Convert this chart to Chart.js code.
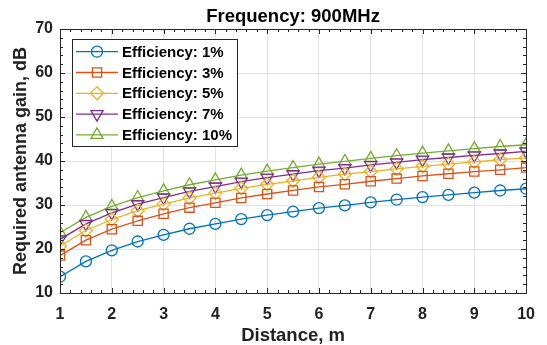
<!DOCTYPE html>
<html>
<head>
<meta charset="utf-8">
<script src="https://cdn.jsdelivr.net/npm/chart.js@4/dist/chart.umd.min.js"></script>
<style>
html,body{margin:0;padding:0;background:#fff;}
#wrap{width:547px;height:345px;}
</style>
</head>
<body>
<div id="wrap"><canvas id="c" width="547" height="345"></canvas></div>
<script>
const distances = [1, 1.5, 2, 2.5, 3, 3.5, 4, 4.5, 5, 5.5, 6, 6.5, 7, 7.5, 8, 8.5, 9, 9.5, 10];
const seriesNames = ['Efficiency: 1%', 'Efficiency: 3%', 'Efficiency: 5%', 'Efficiency: 7%', 'Efficiency: 10%'];
const eff1  = [13.7, 17.2, 19.7, 21.7, 23.2, 24.6, 25.7, 26.8, 27.7, 28.5, 29.3, 29.9, 30.6, 31.2, 31.8, 32.3, 32.8, 33.3, 33.7];
const eff3  = [18.5, 22.0, 24.5, 26.4, 28.0, 29.4, 30.5, 31.6, 32.5, 33.3, 34.1, 34.7, 35.4, 36.0, 36.6, 37.1, 37.6, 38.0, 38.5];
const eff5  = [20.7, 24.2, 26.7, 28.7, 30.2, 31.6, 32.7, 33.8, 34.7, 35.5, 36.3, 37.0, 37.6, 38.2, 38.8, 39.3, 39.8, 40.3, 40.7];
const eff7  = [22.2, 25.7, 28.2, 30.2, 31.7, 33.1, 34.2, 35.3, 36.2, 37.0, 37.8, 38.4, 39.1, 39.7, 40.3, 40.8, 41.3, 41.7, 42.2];
const eff10 = [23.7, 27.2, 29.7, 31.7, 33.2, 34.6, 35.7, 36.8, 37.7, 38.5, 39.3, 39.9, 40.6, 41.2, 41.8, 42.3, 42.8, 43.3, 43.7];
const xTicks = [1, 2, 3, 4, 5, 6, 7, 8, 9, 10];
const yTicks = [10, 20, 30, 40, 50, 60, 70];
const chartTitle = 'Frequency: 900MHz';
const xLabel = 'Distance, m';
const yLabel = 'Required antenna gain, dB';

const colors = ['#0072BD', '#D95319', '#EDB120', '#7E2F8E', '#77AC30'];
const styles = ['circle', 'rect', 'rectRot', 'triangle', 'triangle'];
const rotations = [0, 0, 0, 180, 0];
const radii = [5.5, 6.5, 6.5, 7, 7];
const allSeries = [eff1, eff3, eff5, eff7, eff10];

const datasets = allSeries.map((s, i) => ({
  label: seriesNames[i],
  data: s.map((v, j) => ({x: distances[j], y: v})),
  borderColor: colors[i],
  backgroundColor: 'rgba(0,0,0,0)',
  borderWidth: 1.3,
  pointStyle: styles[i],
  pointRotation: rotations[i],
  pointRadius: radii[i],
  pointBorderWidth: 1.3,
  pointBorderColor: colors[i],
  pointBackgroundColor: 'rgba(0,0,0,0)',
  tension: 0
}));

const AX = '#262626';
const FONT = '"Liberation Sans", Arial, sans-serif';

function drawMarker(ctx, style, r, rot, x, y) {
  ctx.beginPath();
  if (style === 'circle') {
    ctx.arc(x, y, r, 0, Math.PI * 2);
  } else if (style === 'rect') {
    const s = r * Math.SQRT1_2;
    ctx.rect(x - s, y - s, 2 * s, 2 * s);
  } else if (style === 'rectRot') {
    ctx.moveTo(x, y - r); ctx.lineTo(x + r, y); ctx.lineTo(x, y + r); ctx.lineTo(x - r, y); ctx.closePath();
  } else if (style === 'triangle') {
    let a = rot * Math.PI / 180;
    for (let k = 0; k < 3; k++) {
      const px = x + Math.sin(a) * r, py = y - Math.cos(a) * r;
      if (k === 0) ctx.moveTo(px, py); else ctx.lineTo(px, py);
      a += 2 * Math.PI / 3;
    }
    ctx.closePath();
  }
  ctx.stroke();
}

const decor = {
  id: 'decor',
  afterDatasetsDraw(chart) {
    const ctx = chart.ctx;
    const ca = chart.chartArea;
    const xs = chart.scales.x, ys = chart.scales.y;
    ctx.save();
    ctx.strokeStyle = AX;
    ctx.lineWidth = 1;
    ctx.strokeRect(Math.round(ca.left) + 0.5, Math.round(ca.top) + 0.5, Math.round(ca.right - ca.left), Math.round(ca.bottom - ca.top));
    ctx.beginPath();
    for (let i = 0; i <= 45; i++) {
      const v = 1 + i * 0.2;
      const major = i % 5 === 0;
      const L = major ? 5 : 3;
      const px = Math.round(xs.getPixelForValue(v)) + 0.5;
      ctx.moveTo(px, ca.bottom); ctx.lineTo(px, ca.bottom - L);
      ctx.moveTo(px, ca.top); ctx.lineTo(px, ca.top + L);
    }
    for (let i = 0; i <= 30; i++) {
      const v = 10 + i * 2;
      const major = i % 5 === 0;
      const L = major ? 5 : 3;
      const py = Math.round(ys.getPixelForValue(v)) + 0.5;
      ctx.moveTo(ca.left, py); ctx.lineTo(ca.left + L, py);
      ctx.moveTo(ca.right, py); ctx.lineTo(ca.right - L, py);
    }
    ctx.stroke();
    const lx = 72.5, ly = 39.5, lw = 165, lh = 107;
    ctx.fillStyle = '#fff';
    ctx.fillRect(lx, ly, lw, lh);
    ctx.strokeStyle = AX;
    ctx.strokeRect(lx, ly, lw, lh);
    ctx.font = 'bold 15px ' + FONT;
    ctx.textBaseline = 'middle';
    ctx.textAlign = 'left';
    chart.data.datasets.forEach((ds, i) => {
      const ry = 51.7 + i * 20.8;
      ctx.strokeStyle = ds.borderColor;
      ctx.lineWidth = 1.3;
      ctx.beginPath();
      ctx.moveTo(76, ry); ctx.lineTo(118, ry);
      ctx.stroke();
      drawMarker(ctx, ds.pointStyle, ds.pointRadius, ds.pointRotation, 97, ry);
      ctx.fillStyle = '#000';
      ctx.fillText(ds.label, 122, ry + 1);
    });
    ctx.font = 'bold 18.5px ' + FONT;
    ctx.textAlign = 'center';
    ctx.textBaseline = 'alphabetic';
    ctx.fillStyle = '#000';
    ctx.fillText(chartTitle, (ca.left + ca.right) / 2, 21.7);
    ctx.restore();
  }
};

new Chart(document.getElementById('c'), {
  type: 'line',
  data: { datasets },
  options: {
    responsive: false,
    animation: false,
    devicePixelRatio: 1,
    layout: { padding: { top: 29, right: 19, left: 0, bottom: 0 } },
    plugins: { legend: { display: false }, title: { display: false }, tooltip: { enabled: false } },
    scales: {
      x: {
        type: 'linear',
        min: 1, max: 10,
        afterBuildTicks: (s) => { s.ticks = xTicks.map(v => ({value: v})); },
        afterFit: (s) => { s.height = 52; },
        grid: { color: '#e3e3e3', drawTicks: false, lineWidth: 1 },
        border: { display: false },
        ticks: { padding: 12, color: '#222', font: { family: FONT, size: 16, weight: 'bold' }, maxRotation: 0 },
        title: { display: true, text: xLabel, color: '#222', font: { family: FONT, size: 18.5, weight: 'bold' }, padding: { top: 0, bottom: -2 } }
      },
      y: {
        type: 'linear',
        min: 10, max: 70,
        afterBuildTicks: (s) => { s.ticks = yTicks.map(v => ({value: v})); },
        afterFit: (s) => { s.width = 60; },
        grid: { color: '#e3e3e3', drawTicks: false, lineWidth: 1 },
        border: { display: false },
        ticks: { padding: 7, color: '#222', font: { family: FONT, size: 16, weight: 'bold' } },
        title: { display: true, text: yLabel, color: '#222', font: { family: FONT, size: 18, weight: 'bold' }, padding: { top: 10, bottom: 0 } }
      }
    }
  },
  plugins: [decor]
});
</script>
</body>
</html>
